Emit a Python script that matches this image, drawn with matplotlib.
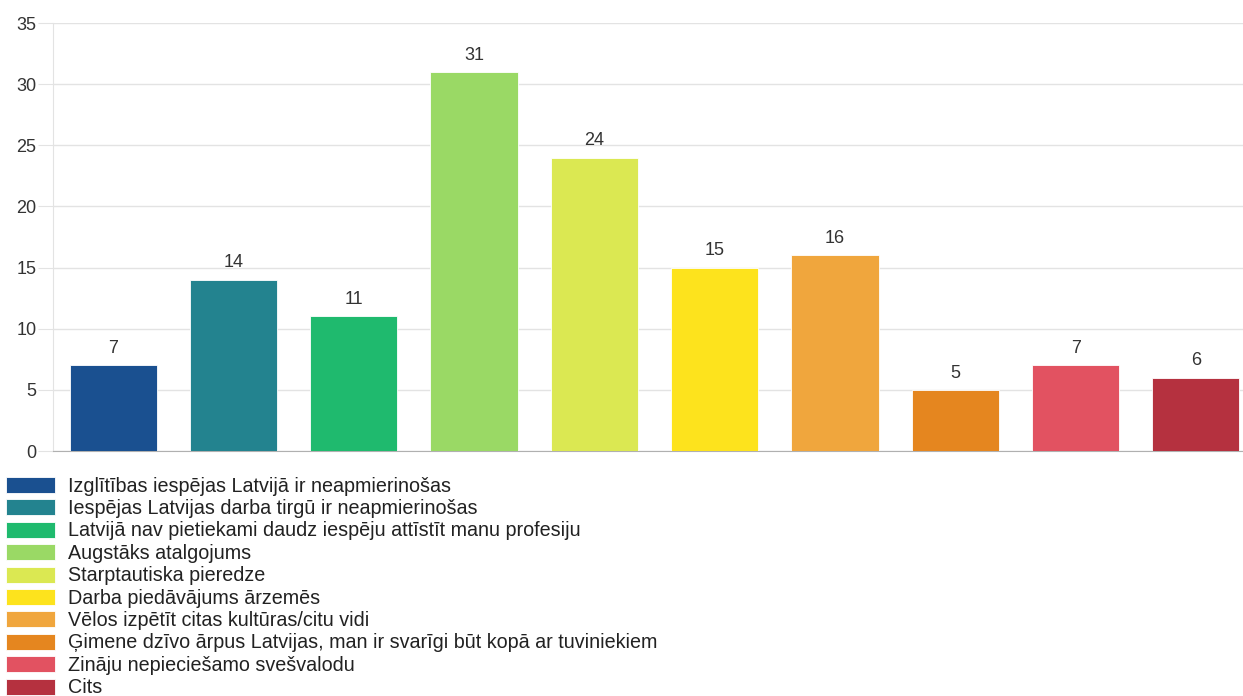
import matplotlib
matplotlib.use("Agg")
import matplotlib.pyplot as plt
from matplotlib.patches import Rectangle

categories = [
    "Izglītības iespējas Latvijā ir neapmierinošas",
    "Iespējas Latvijas darba tirgū ir neapmierinošas",
    "Latvijā nav pietiekami daudz iespēju attīstīt manu profesiju",
    "Augstāks atalgojums",
    "Starptautiska pieredze",
    "Darba piedāvājums ārzemēs",
    "Vēlos izpētīt citas kultūras/citu vidi",
    "Ģimene dzīvo ārpus Latvijas, man ir svarīgi būt kopā ar tuviniekiem",
    "Zināju nepieciešamo svešvalodu",
    "Cits",
]
values = [7, 14, 11, 31, 24, 15, 16, 5, 7, 6]
colors = ["#1a5090", "#23838f", "#1fba6e", "#9ad965", "#dbe852",
          "#fde31d", "#f0a63d", "#e5861f", "#e25261", "#b5313f"]
y_ticks = [0, 5, 10, 15, 20, 25, 30, 35]

W, H = 1243, 696
plt.rcParams["font.family"] = ["Liberation Sans", "DejaVu Sans"]

fig = plt.figure(figsize=(W / 100, H / 100), dpi=100)
ax = fig.add_axes([53 / W, 1 - 451 / H, (W - 53) / W, (451 - 23) / H])

x = list(range(len(values)))
ax.bar(x, values, width=0.725, color=colors, edgecolor="white", linewidth=0.6, zorder=3)
for xi, v in zip(x, values):
    ax.annotate(str(v), (xi, v), xytext=(0, 6), textcoords="offset points",
                ha="center", va="bottom", fontsize=13, color="#333333")

ax.set_ylim(0, 35)
ax.set_xlim(-0.5, 9.5 - 13 / 120)
ax.set_yticks(y_ticks)
ax.set_xticks([])
ax.grid(axis="y", color="#e3e3e3", linewidth=1, zorder=0)
for side in ["top", "right"]:
    ax.spines[side].set_visible(False)
ax.spines["left"].set_color("#e3e3e3")
ax.spines["bottom"].set_color("#b0b0b0")
ax.tick_params(axis="y", length=11, color="#e3e3e3", labelsize=13,
               labelcolor="#333333", pad=1)

# legend drawn below the axes
row_h = 22.4
for i, (label, c) in enumerate(zip(categories, colors)):
    yc = 485 + i * row_h
    fig.add_artist(Rectangle((6 / W, 1 - (yc + 8) / H), 49 / W, 16 / H,
                             transform=fig.transFigure, facecolor=c,
                             edgecolor="white", linewidth=0.6))
    fig.text(68 / W, 1 - (yc + 1) / H, label, ha="left", va="center",
             fontsize=14.2, color="#222222")

fig.savefig("out.png", dpi=100)
